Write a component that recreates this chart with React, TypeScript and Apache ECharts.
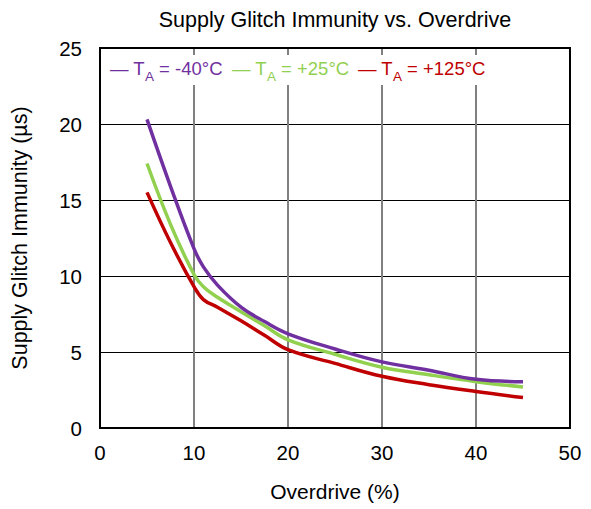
import React, { useEffect, useRef } from "react";
import * as echarts from "echarts";

const xValues = [5, 7.5, 10, 11, 12.5, 15, 17.5, 20, 25, 30, 35, 40, 45];
const tMinus40 = [20.3, 15.9, 11.8, 10.6, 9.4, 7.95, 7.0, 6.2, 5.2, 4.35, 3.8, 3.2, 3.05];
const tPlus25 = [17.4, 13.4, 10.1, 9.3, 8.6, 7.65, 6.72, 5.8, 4.85, 4.0, 3.5, 3.05, 2.7];
const tPlus125 = [15.5, 12.2, 9.3, 8.45, 7.95, 7.05, 6.1, 5.15, 4.25, 3.4, 2.85, 2.4, 2.0];

const seriesNames = ["TA = -40°C", "TA = +25°C", "TA = +125°C"];
const seriesTemps = ["-40°C", "+25°C", "+125°C"];
const seriesColors = ["#7030A0", "#92D050", "#C00000"];
const seriesData = [tMinus40, tPlus25, tPlus125];

const FONT = "Liberation Sans, Arial, sans-serif";

export default function App() {
  const ref = useRef<HTMLDivElement>(null);
  useEffect(() => {
    if (!ref.current) return;
    const chart = echarts.init(ref.current, null, { renderer: "svg" });
    const legendX = [110, 232, 358];
    const legendTexts = seriesTemps.map((t, i) => ({
      type: "text",
      left: legendX[i],
      top: 59,
      z: 11,
      style: {
        text: `{a|— T}{b|A}{a| = ${t}}`,
        fill: seriesColors[i],
        rich: {
          a: { fontFamily: FONT, fontSize: 18.5, fill: seriesColors[i], color: seriesColors[i], lineHeight: 26, verticalAlign: "top" },
          b: { fontFamily: FONT, fontSize: 13.5, fill: seriesColors[i], color: seriesColors[i], lineHeight: 26, padding: [10, 0, 0, 0], verticalAlign: "top" },
        },
      },
    }));
    chart.setOption({
      animation: false,
      backgroundColor: "#fff",
      title: {
        text: "Supply Glitch Immunity vs. Overdrive",
        left: 330,
        textAlign: "center",
        top: 4,
        textStyle: { fontFamily: FONT, fontSize: 21.5, fontWeight: "normal", color: "#000" },
      },
      grid: {
        left: 100,
        right: 21,
        top: 48,
        bottom: 81,
        show: true,
        borderColor: "#000",
        borderWidth: 2,
        z: 3,
      },
      xAxis: {
        type: "value",
        min: 0,
        max: 50,
        interval: 10,
        name: "Overdrive (%)",
        nameLocation: "middle",
        nameGap: 53,
        nameTextStyle: { fontFamily: FONT, fontSize: 21, color: "#000" },
        axisLine: { show: false },
        axisTick: { show: false },
        axisLabel: { fontFamily: FONT, fontSize: 20.5, color: "#000", margin: 14 },
        splitLine: { show: true, lineStyle: { color: "#808080", width: 2 } },
      },
      yAxis: {
        type: "value",
        min: 0,
        max: 25,
        interval: 5,
        name: "Supply Glitch Immunity (µs)",
        nameLocation: "middle",
        nameGap: 69,
        nameTextStyle: { fontFamily: FONT, fontSize: 21.5, color: "#000" },
        axisLine: { show: false },
        axisTick: { show: false },
        axisLabel: { fontFamily: FONT, fontSize: 20.5, color: "#000", margin: 18 },
        splitLine: { show: true, lineStyle: { color: "#000", width: 1.2 } },
      },
      graphic: [
        {
          type: "rect",
          left: 104,
          top: 55,
          z: 10,
          shape: { width: 384, height: 30 },
          style: { fill: "#fff" },
        },
        ...legendTexts,
      ],
      series: seriesData.map((d, i) => ({
        name: seriesNames[i],
        type: "line",
        smooth: 0.4,
        showSymbol: false,
        symbol: "none",
        data: xValues.map((x, j) => [x, d[j]]),
        lineStyle: { color: seriesColors[i], width: 3.5 },
        itemStyle: { color: seriesColors[i] },
        z: 5 - i,
      })),
    });
    return () => chart.dispose();
  }, []);
  return (
    <div
      ref={ref}
      style={{ position: "fixed", left: 0, top: 0, width: 591, height: 509 }}
    />
  );
}
